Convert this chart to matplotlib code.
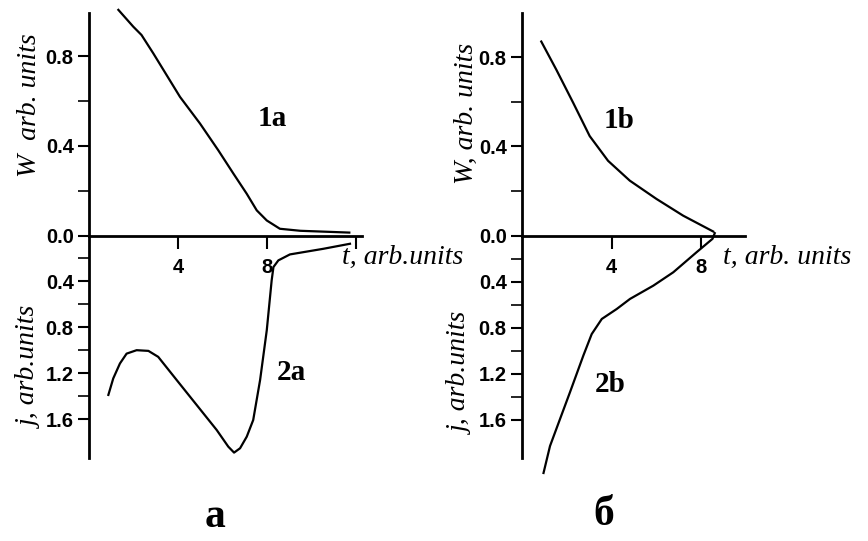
import matplotlib
matplotlib.use("Agg")
import matplotlib.pyplot as plt
from matplotlib.ticker import FixedLocator

# ---- data ----
t_1a = [1.32, 1.99, 2.36, 2.89, 4.09, 4.99, 5.81, 6.49, 7.09, 7.54, 7.99, 8.58, 9.5, 10.6, 11.7]
w_1a = [1.006, 0.931, 0.894, 0.812, 0.618, 0.499, 0.380, 0.276, 0.186, 0.112, 0.067, 0.030, 0.021, 0.017, 0.013]

t_2a = [0.87, 1.09, 1.39, 1.69, 2.14, 2.67, 3.11, 3.94, 4.84, 5.74, 6.26, 6.52, 6.79, 7.09, 7.38,
        7.69, 7.99, 8.21, 8.29, 8.51, 9.03, 10.53, 11.73]
j_2a = [1.39, 1.246, 1.116, 1.03, 1.0, 1.006, 1.058, 1.26, 1.478, 1.696, 1.841, 1.893, 1.855, 1.754, 1.609,
        1.26, 0.826, 0.391, 0.275, 0.217, 0.165, 0.116, 0.072]

t_1b = [0.86, 1.53, 2.28, 3.02, 3.84, 4.81, 6.0, 7.19, 8.53]
w_1b = [0.870, 0.744, 0.596, 0.446, 0.335, 0.246, 0.164, 0.089, 0.018]

t_2b = [8.6, 8.50, 7.79, 6.75, 5.86, 4.82, 4.23, 3.56, 3.11, 2.74, 2.14, 1.70, 1.25, 0.96]
j_2b = [-0.02, 0.029, 0.145, 0.319, 0.435, 0.55, 0.637, 0.724, 0.855, 1.04, 1.36, 1.59, 1.826, 2.06]

x_ticks = [4, 8]
w_major = [0.0, 0.4, 0.8]
w_minor = [0.2, 0.6]
j_major = [0.4, 0.8, 1.2, 1.6]
j_minor = [0.2, 0.6, 1.0, 1.4]

W_PX, H_PX = 868, 541
fig = plt.figure(figsize=(W_PX / 100, H_PX / 100), dpi=100)
fig.patch.set_facecolor("white")


def rect(x0, y0, x1, y1):
    return [x0 / W_PX, 1 - y1 / H_PX, (x1 - x0) / W_PX, (y1 - y0) / H_PX]


def fpos(x, y):
    return x / W_PX, 1 - y / H_PX


TICKFONT = dict(family="Liberation Sans", weight="bold", size=14.5)
LABFONT = dict(family="Liberation Serif", style="italic", size=20)
CURVEFONT = dict(family="Liberation Serif", weight="bold", size=21)


def style_axes(ax, yticks, yminor):
    for s in ["top", "right"]:
        ax.spines[s].set_visible(False)
    ax.spines["left"].set_linewidth(2)
    ax.spines["bottom"].set_linewidth(2)
    ax.set_facecolor("none")
    ax.yaxis.set_major_locator(FixedLocator(yticks))
    ax.yaxis.set_minor_locator(FixedLocator(yminor))
    ax.tick_params(axis="y", which="major", direction="out", length=8, width=1.5, pad=3)
    ax.tick_params(axis="y", which="minor", direction="out", length=8, width=1.2)
    ax.set_yticklabels([f"{v:.1f}" for v in yticks], fontdict=TICKFONT)


def panel(x0, x1, xmax, wmax, jmax, t_w, w, t_j, j, xt, show12):
    axu = fig.add_axes(rect(x0, 13, x1, 235.5))
    axl = fig.add_axes(rect(x0, 235.5, x1, 458))
    axu.set_xlim(0, xmax)
    axl.set_xlim(0, xmax)
    axu.set_ylim(0, wmax)
    axl.set_ylim(jmax, 0)
    style_axes(axu, w_major, w_minor)
    style_axes(axl, j_major, j_minor)
    axl.spines["bottom"].set_visible(False)
    axl.set_xticks([])
    ticks = list(xt) + ([12] if show12 else [])
    axu.set_xticks(ticks)
    axu.set_xticklabels([str(v) if v != 12 else "" for v in ticks], fontdict=TICKFONT)
    axu.tick_params(axis="x", direction="out", length=9, width=1.5, pad=7)
    axu.plot(t_w, w, color="black", lw=1.6, clip_on=False, solid_joinstyle="round")
    axl.plot(t_j, j, color="black", lw=1.6, clip_on=False, solid_joinstyle="round")
    return axu, axl


panel(89, 362, 12.27, 0.992, 1.94, t_1a, w_1a, t_2a, j_2a, x_ticks, True)
panel(522, 745, 9.95, 0.998, 1.93, t_1b, w_1b, t_2b, j_2b, x_ticks, False)

# axis labels
fig.text(*fpos(30, 105), "W  arb. units", rotation=90, ha="center", va="center", **LABFONT)
fig.text(*fpos(30, 367), "j, arb.units", rotation=90, ha="center", va="center", **LABFONT)
fig.text(*fpos(466, 113), "W, arb. units", rotation=90, ha="center", va="center", **LABFONT)
fig.text(*fpos(461, 373), "j, arb.units", rotation=90, ha="center", va="center", **LABFONT)
fig.text(*fpos(403, 257), "t, arb.units", ha="center", va="center", **LABFONT)
fig.text(*fpos(787, 257), "t, arb. units", ha="center", va="center", **LABFONT)

# curve labels
fig.text(*fpos(272, 118), "1a", ha="center", va="center", **CURVEFONT)
fig.text(*fpos(291, 373), "2a", ha="center", va="center", **CURVEFONT)
fig.text(*fpos(619, 120), "1b", ha="center", va="center", **CURVEFONT)
fig.text(*fpos(610, 384), "2b", ha="center", va="center", **CURVEFONT)

# panel letters
fig.text(*fpos(215, 517), "а", ha="center", va="center", family="Liberation Serif", weight="bold", size=30)
fig.text(*fpos(604, 515), "б", ha="center", va="center", family="Liberation Serif", weight="bold", size=30)

fig.savefig("out.png", dpi=100, facecolor="white")
